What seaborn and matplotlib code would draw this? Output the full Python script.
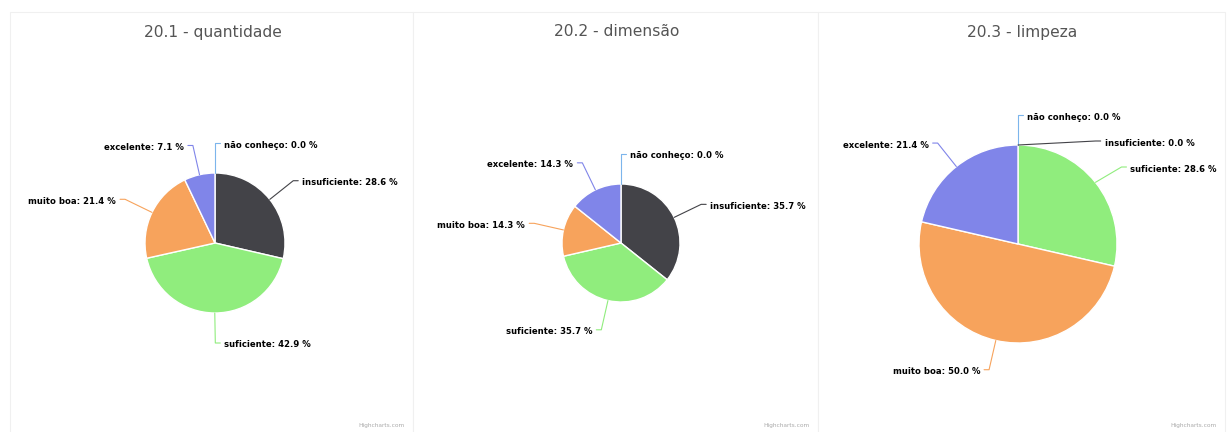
import matplotlib
matplotlib.use("Agg")
import matplotlib.pyplot as plt
import seaborn as sns
import numpy as np
from matplotlib.patches import Rectangle

# ---- data ----
categories = ["não conheço", "insuficiente", "suficiente", "muito boa", "excelente"]
titles = ["20.1 - quantidade", "20.2 - dimensão", "20.3 - limpeza"]
quantidade = [0.0, 28.6, 42.9, 21.4, 7.1]
dimensao = [0.0, 35.7, 35.7, 14.3, 14.3]
limpeza = [0.0, 0.0, 28.6, 50.0, 21.4]
series = [quantidade, dimensao, limpeza]
colors = ["#7cb5ec", "#434348", "#90ed7d", "#f7a35c", "#8085e9"]

# ---- layout (pixels) ----
W, H = 1231, 432
panels = [(10, 12, 403, 430), (413, 12, 405, 430), (818, 12, 407, 430)]
pies = [(215, 243, 70), (621, 243, 59), (1018, 244, 99)]
DIST = 30
GAP = 26

sns.set_theme(style="white")
plt.rcParams['font.family'] = ['DejaVu Sans']

fig = plt.figure(figsize=(W / 100, H / 100), dpi=100)
ax = fig.add_axes([0, 0, 1, 1])

for (px, py, pw, ph) in panels:
    ax.add_patch(Rectangle((px, py), pw, ph, facecolor="white",
                           edgecolor="#f0f0f0", linewidth=0.8, zorder=0))

for k, vals in enumerate(series):
    cx, cy, r = pies[k]
    px, py, pw, ph = panels[k]
    ax.pie(vals, colors=colors, center=(cx, cy), radius=r,
           startangle=-90, counterclock=True, normalize=True,
           wedgeprops=dict(edgecolor="white", linewidth=1.0), frame=True)
    ax.text(px + pw / 2 + 1, 32, titles[k], ha="center", va="center",
            fontsize=11.2, color="#555555")
    ax.text(px + pw - 8, 425, "Highcharts.com", ha="right",
            va="center", fontsize=4.2, color="#aaaaaa")

    total = sum(vals)
    cum = 0.0
    labels = []
    for i, v in enumerate(vals):
        mid = (cum + v / 2) / total * 2 * np.pi
        cum += v
        s, c = np.sin(mid), np.cos(mid)
        side = 1 if s > -0.01 else -1
        ex, ey = cx + r * s, cy - r * c
        iy = cy - (r + DIST) * c
        labels.append(dict(i=i, side=side, ex=ex, ey=ey, y=iy))
    R = r + DIST
    for side in (1, -1):
        grp = sorted([l for l in labels if l["side"] == side], key=lambda d: d["y"])
        for j in range(1, len(grp)):
            if grp[j]["y"] < grp[j - 1]["y"] + GAP:
                grp[j]["y"] = grp[j - 1]["y"] + GAP
        for l in grp:
            dy = l["y"] - cy
            dx = np.sqrt(max(R * R - dy * dy, 0.0))
            lx = cx + side * dx
            ly = l["y"]
            i = l["i"]
            ax.plot([l["ex"], lx, lx + side * 5], [l["ey"], ly, ly],
                    color=colors[i], linewidth=0.8, zorder=1)
            ax.text(lx + side * 9, ly + 2,
                    f"{categories[i]}: {vals[i]:.1f} %",
                    ha="left" if side == 1 else "right", va="center",
                    fontsize=6.1, fontweight="bold", color="#000000")

ax.set_xlim(0, W)
ax.set_ylim(H, 0)
ax.set_aspect("equal")
ax.axis("off")
fig.savefig("out.png", dpi=100, facecolor="white")
